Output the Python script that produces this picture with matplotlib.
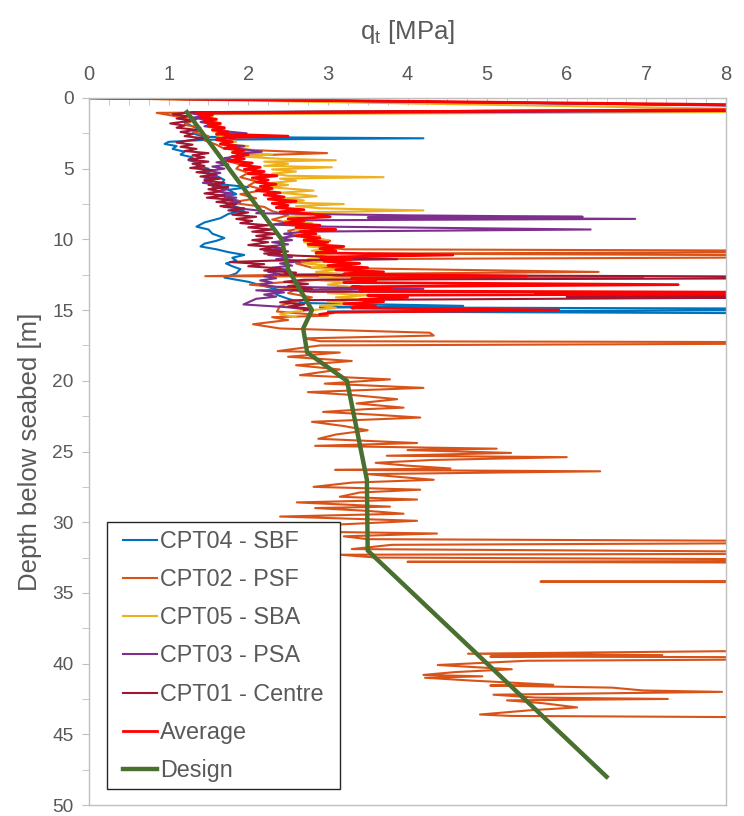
import matplotlib
matplotlib.use("Agg")
import matplotlib.pyplot as plt
from matplotlib.ticker import MultipleLocator
from matplotlib.patches import Rectangle

plt.rcParams['font.family'] = ['Liberation Sans', 'DejaVu Sans']

# ---------------- data (depth [m], qt [MPa]) ----------------
cpt04_depth = [0.0, 0.75, 1.0, 1.25, 1.5, 1.75, 2.0, 2.25, 2.5, 2.75, 2.85, 2.95, 3.1, 3.25, 3.4, 3.6, 3.8, 4.0,
               4.2, 4.4, 4.6, 4.8, 5.0, 5.2, 5.5, 5.8, 6.1, 6.3, 6.5, 6.8, 7.0, 7.3, 7.6, 7.9, 8.2, 8.5, 8.8,
               9.1, 9.3, 9.6, 9.9, 10.1, 10.3, 10.5, 10.7, 10.9, 11.1, 11.3, 11.5, 11.7, 11.9, 12.1, 12.4,
               12.7, 13.0, 13.3, 13.6, 13.9, 14.2, 14.5, 14.7, 14.8, 14.95, 15.1, 15.3]
cpt04_qt = [0.0, 12.0, 1.3, 1.25, 1.35, 1.2, 1.3, 1.4, 1.3, 1.45, 4.2, 1.5, 1.0, 0.95, 1.1, 1.05, 1.2, 1.15,
            1.3, 1.25, 1.4, 1.35, 1.5, 1.45, 1.6, 1.7, 1.65, 2.0, 1.75, 1.85, 1.7, 1.9, 1.8, 1.95, 1.75, 1.65, 1.45,
            1.35, 1.5, 1.55, 1.7, 1.6, 1.45, 1.4, 1.6, 1.75, 1.95, 1.8, 1.85, 1.72, 1.8, 1.9, 1.85,
            1.7, 2.0, 2.2, 2.4, 2.35, 2.5, 2.7, 4.7, 2.9, 12.0, 3.0, 12.0]

cpt02_depth = [0.0, 0.7, 1.05, 1.3, 1.6, 1.9, 2.1, 2.4, 2.7, 3.0, 3.3, 3.6, 3.9, 4.1, 4.4, 4.7, 5.0, 5.3, 5.6,
               5.9, 6.2, 6.5, 6.8, 7.1, 7.4, 7.7, 8.0, 8.3, 8.6, 9.1, 9.4, 9.7, 10.1, 10.4, 10.7, 10.85, 11.0,
               11.2, 11.4, 11.7, 12.0, 12.3, 12.45, 12.6, 12.7, 12.85, 13.2, 13.5, 13.8, 14.1, 14.4, 14.7,
               15.1, 15.4, 15.5, 15.7, 16.0, 16.3, 16.6, 16.8, 17.0, 17.2, 17.3, 17.5, 17.9, 18.0, 18.3, 18.6,
               18.9, 19.2, 19.6, 19.9, 20.2, 20.5, 20.8, 21.0, 21.3, 21.6, 21.9, 22.0, 22.2, 22.4, 22.6,
               22.9, 23.2, 23.5, 23.8, 24.1, 24.4, 24.6, 24.8, 24.9, 25.1, 25.3, 25.4, 25.6, 25.8, 26.0,
               26.2, 26.3, 26.4, 26.6, 26.8, 27.0, 27.2, 27.5, 27.7, 27.9, 28.2, 28.4, 28.6, 28.9, 29.0,
               29.2, 29.4, 29.6, 29.9, 30.2, 30.5, 30.7, 30.8, 31.0, 31.2, 31.4, 31.6, 31.9, 32.2, 32.3,
               32.5, 32.7, 32.8, 32.9, 33.5, 34.1, 34.2, 34.3, 38.9, 39.3, 39.4, 39.5, 39.6, 39.8, 40.1,
               40.4, 40.6, 40.8, 40.9, 41.0, 41.2, 41.5, 41.55, 41.7, 41.9, 42.0, 42.2, 42.4, 42.5, 42.6,
               42.8, 43.1, 43.3, 43.6, 43.7, 43.9, 44.0]
cpt02_qt = [0.0, 11.0, 0.85, 1.1, 1.3, 1.2, 1.4, 1.31, 1.5, 1.45, 1.6, 1.7, 2.99, 1.8, 1.7, 1.9, 1.85, 2.0, 1.9,
            2.1, 2.0, 2.2, 1.9, 2.1, 1.77, 2.2, 2.3, 2.5, 2.3, 2.74, 2.5, 2.6, 3.03, 2.8, 3.2, 12.0, 3.5,
            12.0, 2.9, 2.6, 2.8, 6.4, 3.0, 1.46, 6.96, 2.9, 2.02, 2.6, 2.5, 2.8, 2.6, 2.4,
            2.36, 3.0, 2.3, 2.5, 2.06, 2.4, 4.28, 4.33, 2.7, 2.9, 12.0, 2.9, 2.37, 3.15, 2.5, 3.3,
            2.6, 3.15, 2.65, 3.78, 2.96, 4.2, 2.75, 3.3, 3.87, 3.36, 3.95, 3.5, 2.94, 3.6, 4.16,
            2.8, 3.2, 3.5, 3.1, 2.88, 4.12, 2.84, 5.12, 4.0, 5.3, 3.74, 6.0, 4.3, 3.6, 4.0,
            4.54, 3.09, 6.42, 3.5, 3.9, 4.33, 3.3, 2.82, 4.16, 3.4, 3.15, 4.12, 2.61, 3.78, 2.84,
            3.5, 3.95, 2.4, 4.12, 3.0, 2.8, 3.15, 4.37, 3.2, 3.5, 12.0, 3.8, 3.3, 12.0, 3.15,
            3.6, 12.0, 4.0, 12.0, 12.0, 12.0, 5.67, 12.0, 12.0, 4.76, 7.2, 5.04, 12.0, 5.5, 4.38,
            5.31, 4.6, 4.2, 4.94, 4.22, 4.8, 5.83, 5.04, 6.57, 6.96, 7.95, 5.08, 5.6, 7.27, 5.25,
            5.7, 6.13, 5.54, 4.91, 5.3, 12.0, 12.0]

cpt05_depth = [0.0, 0.95, 1.15, 1.3, 1.45, 1.6, 1.75, 1.9, 2.05, 2.2, 2.35, 2.5, 2.65, 2.8, 2.95, 3.1, 3.25,
               3.4, 3.55, 3.7, 3.85, 4.0, 4.15, 4.3, 4.4, 4.5, 4.65, 4.8, 4.9, 5.05, 5.2, 5.35, 5.5, 5.6,
               5.7, 5.85, 6.0, 6.15, 6.3, 6.45, 6.55, 6.7, 6.85, 6.95, 7.1, 7.25, 7.4, 7.5, 7.65, 7.8, 7.95,
               8.1, 8.25, 8.4, 8.55, 8.7, 8.85, 9.0, 9.15, 9.3, 9.45, 9.6, 9.75, 9.9, 10.05, 10.2, 10.35,
               10.5, 10.65, 10.8, 10.95, 11.1, 11.25, 11.4, 11.55, 11.7, 11.85, 12.0, 12.15, 12.3, 12.45,
               12.6, 12.75, 12.9, 13.05, 13.2, 13.35, 13.5, 13.65, 13.8, 13.95, 14.1, 14.25, 14.4, 14.55,
               14.7, 14.85, 15.0, 15.15, 15.3, 15.5]
cpt05_qt = [0.0, 10.0, 1.4, 1.55, 1.45, 1.6, 1.5, 1.65, 1.5, 1.7, 1.55, 1.75, 1.6, 1.8, 1.65, 1.85, 1.65,
            2.0, 1.8, 2.1, 1.9, 2.3, 1.95, 2.4, 3.1, 2.2, 2.5, 2.2, 3.05, 2.3, 2.6, 2.3, 2.5, 3.7,
            2.4, 2.6, 2.3, 2.5, 2.25, 2.6, 2.82, 2.4, 2.7, 2.86, 2.45, 2.7, 2.5, 3.2, 2.6, 2.9, 4.2,
            2.6, 2.8, 2.5, 2.75, 2.45, 2.8, 2.55, 2.9, 2.6, 2.8, 2.55, 2.9, 2.7, 3.0, 2.7, 2.95,
            2.75, 3.05, 2.8, 3.1, 2.85, 3.0, 2.75, 2.95, 2.7, 3.0, 2.8, 3.1, 2.85, 3.2,
            2.9, 3.15, 2.9, 3.2, 3.0, 3.3, 2.9, 3.3, 3.0, 3.5, 3.1, 3.45, 3.0, 3.4,
            2.9, 3.1, 2.8, 2.5, 2.4, 2.6]

cpt03_depth = [0.0, 0.8, 1.1, 1.25, 1.4, 1.55, 1.7, 1.85, 2.0, 2.15, 2.3, 2.5, 2.65, 2.8, 2.95, 3.1, 3.25, 3.4,
               3.55, 3.7, 3.8, 3.95, 4.1, 4.25, 4.4, 4.55, 4.7, 4.85, 5.0, 5.15, 5.3, 5.45, 5.6, 5.75, 5.9,
               6.0, 6.15, 6.3, 6.45, 6.6, 6.75, 6.9, 7.05, 7.2, 7.35, 7.5, 7.7, 7.85, 8.0, 8.15, 8.3, 8.4,
               8.45, 8.55, 8.65, 8.8, 8.95, 9.1, 9.3, 9.45, 9.6, 9.75, 9.9, 10.05, 10.2, 10.35, 10.5, 10.65,
               10.8, 10.95, 11.1, 11.25, 11.4, 11.55, 11.7, 11.85, 12.0, 12.15, 12.3, 12.45, 12.6, 12.75,
               12.9, 13.05, 13.2, 13.35, 13.5, 13.6, 13.75, 13.9, 14.05, 14.2, 14.4, 14.6, 14.8, 15.0]
cpt03_qt = [0.0, 12.0, 1.3, 1.45, 1.3, 1.5, 1.4, 1.55, 1.45, 1.7, 1.6, 1.98, 1.7, 1.85, 1.6, 1.75, 1.65, 1.95,
            1.8, 2.05, 2.17, 1.85, 1.95, 1.7, 1.8, 1.6, 1.75, 1.55, 1.7, 1.5, 1.65, 1.5, 1.6, 1.45, 1.55,
            1.43, 1.65, 1.55, 1.75, 1.6, 1.8, 1.6, 1.85, 1.7, 1.9, 1.75, 1.69, 1.95, 2.2, 2.1, 4.0, 6.2,
            3.5, 6.86, 2.6, 2.5, 2.3, 3.0, 6.3, 2.7, 2.45, 2.6, 2.4, 2.55, 2.3, 2.5, 2.25, 2.45,
            2.2, 2.4, 2.25, 2.55, 2.35, 2.65, 2.4, 2.55, 2.3, 2.5, 2.25, 2.4, 2.2, 2.35,
            2.15, 2.3, 2.15, 2.35, 4.2, 2.1, 2.45, 2.2, 2.35, 2.1, 2.02, 1.94, 2.5, 2.8]

cpt01_depth = [0.0, 0.8, 1.0, 1.15, 1.3, 1.45, 1.6, 1.8, 1.95, 2.1, 2.25, 2.4, 2.55, 2.7, 2.85, 3.0, 3.15, 3.3,
               3.45, 3.6, 3.75, 3.9, 4.05, 4.2, 4.35, 4.5, 4.65, 4.8, 4.95, 5.1, 5.25, 5.4, 5.55, 5.7, 5.85,
               6.0, 6.15, 6.3, 6.45, 6.6, 6.75, 6.9, 7.05, 7.2, 7.35, 7.5, 7.65, 7.8, 7.95, 8.1, 8.25, 8.4,
               8.55, 8.7, 8.85, 9.0, 9.15, 9.3, 9.45, 9.6, 9.75, 9.9, 10.05, 10.2, 10.4, 10.55, 10.7, 10.85,
               11.0, 11.15, 11.4, 11.5, 11.6, 11.75, 11.9, 12.05, 12.2, 12.35, 12.5, 12.7, 12.85, 13.0,
               13.15, 13.3, 13.45, 13.6, 13.7, 13.75, 13.85, 13.95, 14.05, 14.1, 14.3, 14.45, 14.6, 14.75,
               14.9, 15.0]
cpt01_qt = [0.0, 13.0, 1.3, 1.05, 1.25, 1.1, 1.3, 1.02, 1.2, 1.1, 1.35, 1.15, 1.3, 1.2, 1.45, 1.25, 1.1, 1.3,
            1.15, 1.35, 1.2, 1.5, 1.3, 1.45, 1.25, 1.5, 1.3, 1.45, 1.27, 1.55, 1.35, 1.6, 1.4, 1.65, 1.45,
            1.7, 1.5, 1.75, 1.5, 1.65, 1.45, 1.7, 1.48, 1.8, 1.6, 1.85, 1.65, 1.95, 1.75, 2.0, 1.8, 2.1,
            1.85, 2.05, 1.9, 2.25, 2.0, 2.3, 2.05, 2.35, 2.1, 2.3, 2.05, 2.25, 2.0, 2.35, 2.15, 2.5,
            2.2, 2.6, 3.87, 2.3, 1.77, 2.2, 2.0, 2.4, 2.2, 2.6, 2.4, 12.0, 2.7, 2.45,
            2.75, 2.5, 2.8, 2.55, 2.8, 9.0, 5.6, 10.0, 6.0, 9.0, 2.6, 2.4, 2.7, 2.5,
            2.8, 2.7]

average_depth = [0.0, 0.7, 1.05, 1.2, 1.35, 1.5, 1.65, 1.8, 1.95, 2.1, 2.25, 2.4, 2.55, 2.7, 2.8, 2.95, 3.1,
                 3.25, 3.4, 3.55, 3.7, 3.85, 4.0, 4.15, 4.3, 4.45, 4.6, 4.75, 4.9, 5.05, 5.2, 5.35, 5.5, 5.65,
                 5.8, 5.95, 6.1, 6.25, 6.4, 6.55, 6.7, 6.85, 7.0, 7.15, 7.3, 7.45, 7.6, 7.75, 7.9, 8.05, 8.2,
                 8.4, 8.55, 8.7, 8.85, 9.0, 9.15, 9.3, 9.45, 9.6, 9.75, 9.9, 10.05, 10.2, 10.35, 10.5, 10.65,
                 10.8, 10.95, 11.1, 11.25, 11.4, 11.55, 11.7, 11.85, 12.0, 12.15, 12.3, 12.45, 12.6, 12.75,
                 12.9, 13.05, 13.2, 13.35, 13.5, 13.65, 13.8, 13.95, 14.1, 14.25, 14.4, 14.55, 14.7, 14.85,
                 15.0, 15.15, 15.3]
average_qt = [0.0, 12.0, 1.35, 1.55, 1.4, 1.6, 1.45, 1.65, 1.5, 1.7, 1.55, 1.75, 1.6, 2.5, 1.7, 1.6, 1.8,
              1.65, 1.85, 1.7, 1.95, 1.8, 2.0, 1.8, 1.95, 1.75, 2.05, 1.9, 2.15, 1.95, 2.2, 2.0, 2.36, 2.05,
              2.25, 2.1, 2.35, 2.15, 2.3, 2.1, 2.4, 2.2, 2.45, 2.25, 2.6, 2.3, 2.5, 2.35, 2.7, 2.4, 2.8,
              3.03, 2.5, 2.7, 2.45, 2.9, 2.6, 3.1, 2.65, 2.85, 2.6, 2.9, 2.7, 3.0, 2.75, 3.2, 2.9,
              3.1, 2.85, 4.57, 2.9, 3.3, 2.95, 3.4, 3.0, 3.5, 3.1, 3.7, 3.2, 5.5, 3.3,
              3.6, 3.2, 7.4, 3.3, 3.8, 3.4, 12.0, 3.5, 4.0, 3.4, 3.7, 3.2, 3.6, 3.3,
              5.9, 3.1, 2.9]

design_depth = [1.0, 10.0, 12.1, 15.0, 16.3, 18.0, 20.0, 27.0, 32.0, 48.0]
design_qt = [1.23, 2.42, 2.5, 2.8, 2.69, 2.74, 3.24, 3.49, 3.5, 6.5]

series = [
    ("CPT04 - SBF", cpt04_qt, cpt04_depth, "#0072BD", 1.5),
    ("CPT02 - PSF", cpt02_qt, cpt02_depth, "#D95319", 1.5),
    ("CPT05 - SBA", cpt05_qt, cpt05_depth, "#EDB120", 1.5),
    ("CPT03 - PSA", cpt03_qt, cpt03_depth, "#7E2F8E", 1.5),
    ("CPT01 - Centre", cpt01_qt, cpt01_depth, "#A2142F", 1.5),
    ("Average", average_qt, average_depth, "#FF0000", 2.0),
    ("Design", design_qt, design_depth, "#4A7030", 3.2),
]

# ---------------- figure ----------------
W, H = 744, 816
fig = plt.figure(figsize=(W / 100, H / 100), dpi=100)
L, R, T, B = 89, 726, 98, 805
ax = fig.add_axes([L / W, 1 - B / H, (R - L) / W, (B - T) / H])

for label, q, d, color, lw in series:
    ax.plot(q, d, color=color, lw=lw, label=label, solid_joinstyle='round')

ax.set_xlim(0, 8)
ax.set_ylim(50, 0)

ax.xaxis.set_major_locator(MultipleLocator(1))
ax.xaxis.set_minor_locator(MultipleLocator(0.25))
ax.yaxis.set_major_locator(MultipleLocator(5))
ax.yaxis.set_minor_locator(MultipleLocator(2.5))

ax.xaxis.tick_top()
ax.xaxis.set_label_position('top')
grey = "#BFBFBF"
txt = "#595959"
for s in ax.spines.values():
    s.set_color(grey)
    s.set_linewidth(1.0)
ax.tick_params(axis='x', which='both', direction='in', length=5, color=grey, labelsize=14.5,
               labelcolor=txt, pad=10, top=True, bottom=False)
ax.tick_params(axis='y', which='both', direction='out', length=5, color=grey, labelsize=13.8,
               labelcolor=txt, pad=6)

ax.set_xlabel(r"q$_\mathregular{t}$ [MPa]", fontsize=18.5, color=txt)
ax.xaxis.set_label_coords(0.5, (B - 32) / (B - T))
ax.xaxis.label.set_verticalalignment('center')
ax.set_ylabel("Depth below seabed [m]", fontsize=18.5, color=txt)
ax.yaxis.set_label_coords((30 - L) / (R - L), 0.5)
ax.yaxis.label.set_verticalalignment('center')

# legend frame (box) drawn as a rectangle in axes coordinates
def ax_x(px):
    return (px - L) / (R - L)

def ax_y(py):
    return (B - py) / (B - T)

frame = Rectangle((ax_x(107), ax_y(789)), ax_x(340) - ax_x(107), ax_y(522) - ax_y(789),
                  transform=ax.transAxes, facecolor='white', edgecolor='#262626', lw=1.0,
                  zorder=4.5, clip_on=False)
ax.add_patch(frame)

leg = ax.legend(loc='upper left', bbox_to_anchor=(ax_x(123), ax_y(530)), borderaxespad=0,
                fontsize=16.8, frameon=False, handlelength=1.46, handletextpad=0.13,
                labelspacing=0.65, borderpad=0.0)
for t in leg.get_texts():
    t.set_color(txt)

fig.savefig("out.png", dpi=100)
